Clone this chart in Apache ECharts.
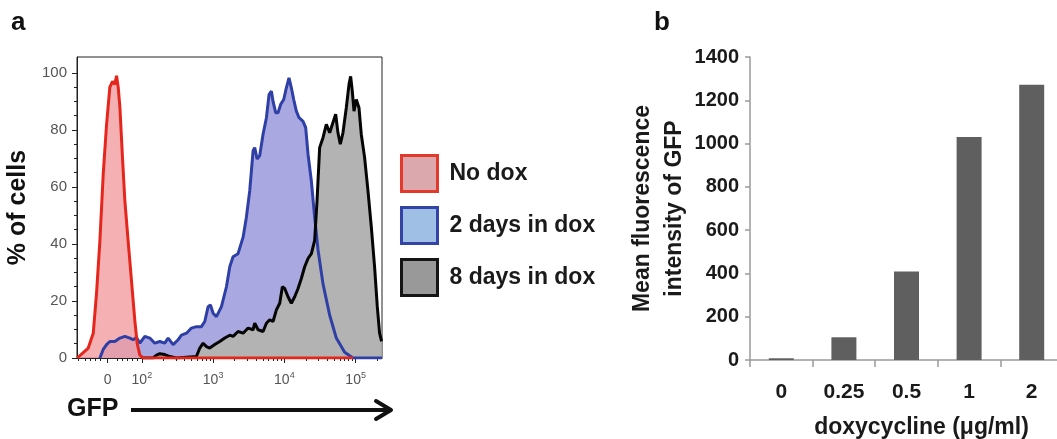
<!DOCTYPE html>
<html><head><meta charset="utf-8">
<script src="https://cdn.jsdelivr.net/npm/echarts@6/dist/echarts.min.js"></script>
<style>html,body{margin:0;padding:0;background:#fff}#c{width:1057px;height:439px}</style>
</head><body><div id="c"></div>
<script>
// ---- Panel a: GFP histograms (x = display position in decades, 2 = 10^2; y = % of cells)
const noDox = [[1.093,0],[1.248,3.5],[1.318,8.7],[1.364,22.7],[1.411,41],[1.458,64.5],[1.505,82],[1.551,95],[1.589,97],[1.621,96],[1.645,99],[1.668,95],[1.692,88],[1.729,70],[1.762,55],[1.808,41],[1.855,27],[1.902,13],[1.935,5],[1.972,1],[2.019,0],[4.963,0]];
const twoDays = [[1.411,0],[1.458,3],[1.505,4.7],[1.551,5.8],[1.621,5.8],[1.692,7],[1.762,7.6],[1.832,7],[1.879,6.4],[1.925,7.2],[1.972,5.2],[2.042,7.6],[2.112,7],[2.182,5.2],[2.252,5.8],[2.322,5.2],[2.369,7],[2.439,4.7],[2.509,6.4],[2.556,8],[2.626,8.7],[2.696,10.5],[2.766,11],[2.836,11],[2.883,12.8],[2.930,18],[2.963,18.6],[3.000,15.7],[3.047,14.5],[3.117,18],[3.187,25],[3.234,32],[3.280,35.5],[3.350,36.6],[3.421,42.4],[3.467,49.4],[3.514,58.7],[3.561,72.7],[3.584,73.8],[3.617,69.8],[3.654,71],[3.701,78.5],[3.748,84.3],[3.785,92.4],[3.818,93.6],[3.841,90],[3.879,86],[3.911,86],[3.949,89],[3.991,90.7],[4.028,94.8],[4.065,98.3],[4.098,94.8],[4.131,90.7],[4.168,86.6],[4.206,84.3],[4.262,83],[4.299,80.8],[4.332,71.5],[4.379,62],[4.425,49.4],[4.472,38],[4.542,26],[4.636,15],[4.729,7],[4.846,2],[4.963,0],[5.369,0]];
const eightDays = [[2.0,0],[2.159,0],[2.206,1],[2.252,1.5],[2.322,1.2],[2.393,0.5],[2.486,0],[2.766,0.5],[2.813,3.5],[2.860,5.2],[2.907,4],[2.953,3.5],[3.023,4.7],[3.093,5.8],[3.164,7],[3.234,8],[3.280,7.6],[3.350,9.3],[3.421,8.7],[3.491,10.5],[3.561,9.9],[3.584,12.2],[3.631,9.9],[3.701,9.3],[3.748,12.2],[3.794,13.4],[3.841,12.8],[3.888,16.9],[3.935,19.2],[3.972,25],[4.005,24.4],[4.051,21.5],[4.098,19.2],[4.145,21.5],[4.192,24.4],[4.238,27.9],[4.285,32],[4.332,34.9],[4.379,36.6],[4.425,41.3],[4.458,55],[4.495,73.8],[4.542,77.3],[4.589,82],[4.636,79],[4.682,82.6],[4.720,85.5],[4.752,79],[4.785,75],[4.822,79],[4.869,87.8],[4.907,96],[4.930,98.8],[4.953,93.6],[4.977,86.6],[5.009,90.7],[5.047,87.8],[5.079,78.5],[5.126,70.3],[5.173,58.7],[5.220,46],[5.266,32],[5.304,18],[5.336,8.7],[5.364,5.8]];
const seriesNames = ['No dox', '2 days in dox', '8 days in dox'];
const gfpMajorTicks = [1.52, 2, 3, 4, 5];
const gfpMajorLabels = ['0', '10|2', '10|3', '10|4', '10|5'];
const gfpMinorTicks = [1.103,1.201,1.271,1.341,1.411,1.650,1.720,1.790,1.860,1.930,
  2.301,2.477,2.602,2.699,2.778,2.845,2.903,2.954,
  3.301,3.477,3.602,3.699,3.778,3.845,3.903,3.954,
  4.301,4.477,4.602,4.699,4.778,4.845,4.903,4.954,5.301];
const pctMajorTicks = [0, 20, 40, 60, 80, 100];
const pctMinorTicks = [5,10,15,25,30,35,45,50,55,65,70,75,85,90,95];

// ---- Panel b: mean fluorescence intensity
const doseCategories = ['0', '0.25', '0.5', '1', '2'];
const mfiValues = [8, 105, 409, 1030, 1272];

const FONT = 'Liberation Sans, Arial, Helvetica, sans-serif';
const chart = echarts.init(document.getElementById('c'), null, {renderer: 'canvas'});

const labelMap = {};
gfpMajorTicks.forEach((v, i) => { labelMap[v] = gfpMajorLabels[i]; });

chart.setOption({
  animation: false,
  backgroundColor: '#fff',
  graphic: [
    {type: 'text', left: 11, top: 10, style: {text: 'a', font: 'bold 26px ' + FONT, fill: '#111'}},
    {type: 'text', left: 654, top: 10, style: {text: 'b', font: 'bold 26px ' + FONT, fill: '#111'}},
    {type: 'text', left: 67, top: 397, style: {text: 'GFP', font: 'bold 25px ' + FONT, fill: '#111'}},
    {type: 'line', shape: {x1: 131, y1: 410, x2: 390, y2: 410}, style: {stroke: '#111', lineWidth: 4}},
    {type: 'polyline', shape: {points: [[376, 401], [391, 410], [376, 419]]}, style: {stroke: '#111', lineWidth: 4, fill: null, lineCap: 'round', lineJoin: 'round'}}
  ],
  legend: {
    orient: 'vertical', left: 400, top: 154, padding: 0,
    itemWidth: 36, itemHeight: 36, itemGap: 13, icon: 'rect',
    selectedMode: false,
    textStyle: {fontSize: 23, fontWeight: 'bold', color: '#1a1a1a', fontFamily: FONT, padding: [0, 0, 0, 7]},
    data: [
      {name: seriesNames[0], itemStyle: {color: '#dba8ad', borderColor: '#e2392a', borderWidth: 3}},
      {name: seriesNames[1], itemStyle: {color: '#9fc0e4', borderColor: '#3343a6', borderWidth: 3}},
      {name: seriesNames[2], itemStyle: {color: '#999999', borderColor: '#151515', borderWidth: 3}}
    ]
  },
  grid: [
    {left: 77, right: 675, top: 57, bottom: 81, show: true, borderColor: '#222', borderWidth: 1, backgroundColor: 'transparent', outerBoundsMode: 'none', containLabel: false},
    {left: 750, right: -6, top: 57, bottom: 79, outerBoundsMode: 'none', containLabel: false}
  ],
  xAxis: [
    {type: 'value', gridIndex: 0, min: 1.09, max: 5.37, position: 'bottom',
      axisLine: {show: true, lineStyle: {color: '#222', width: 1}},
      splitLine: {show: false},
      axisTick: {show: true, length: 5, customValues: gfpMajorTicks, lineStyle: {color: '#222'}},
      axisLabel: {show: true, margin: 13, customValues: gfpMajorTicks, color: '#555',
        formatter: v => {
          const key = Object.keys(labelMap).find(k => Math.abs(+k - v) < 1e-6);
          const t = labelMap[key] || '';
          if (t.indexOf('|') < 0) return '{b|' + t + '}';
          const p = t.split('|');
          return '{b|' + p[0] + '}{s|' + p[1] + '}';
        },
        rich: {
          b: {fontSize: 14, color: '#555', fontFamily: FONT, lineHeight: 18},
          s: {fontSize: 9, color: '#555', fontFamily: FONT, verticalAlign: 'top', lineHeight: 10}
        }
      }
    },
    {type: 'value', gridIndex: 0, min: 1.09, max: 5.37, position: 'bottom',
      axisLine: {show: false}, splitLine: {show: false},
      axisTick: {show: true, length: 3, customValues: gfpMinorTicks, lineStyle: {color: '#222'}},
      axisLabel: {show: false}
    },
    {type: 'category', gridIndex: 1, data: doseCategories,
      axisLine: {show: true, lineStyle: {color: '#9a9a9a', width: 1.5}},
      axisTick: {show: true, length: 7, alignWithLabel: false, lineStyle: {color: '#9a9a9a', width: 1.5}},
      axisLabel: {margin: 22, fontSize: 21, fontWeight: 'bold', color: '#1a1a1a', fontFamily: FONT},
      name: 'doxycycline (μg/ml)', nameLocation: 'middle', nameGap: 56,
      nameTextStyle: {fontSize: 23, fontWeight: 'bold', color: '#1a1a1a', fontFamily: FONT, padding: [0, 0, 0, 30]}
    }
  ],
  yAxis: [
    {type: 'value', gridIndex: 0, min: 0, max: 105.6, position: 'left',
      axisLine: {show: true, lineStyle: {color: '#222', width: 1}},
      splitLine: {show: false},
      axisTick: {show: true, length: 5, customValues: pctMajorTicks, lineStyle: {color: '#222'}},
      axisLabel: {margin: 10, fontSize: 15, color: '#555', fontFamily: FONT, customValues: pctMajorTicks},
      name: '% of cells', nameLocation: 'middle', nameGap: 46, nameRotate: 90,
      nameTextStyle: {fontSize: 25, fontWeight: 'bold', color: '#111', fontFamily: FONT}
    },
    {type: 'value', gridIndex: 0, min: 0, max: 105.6, position: 'left',
      axisLine: {show: false}, splitLine: {show: false},
      axisTick: {show: true, length: 3, customValues: pctMinorTicks, lineStyle: {color: '#222'}},
      axisLabel: {show: false}
    },
    {type: 'value', gridIndex: 1, min: 0, max: 1400, interval: 200,
      axisLine: {show: true, lineStyle: {color: '#9a9a9a', width: 1.5}},
      splitLine: {show: false},
      axisTick: {show: true, length: 5, lineStyle: {color: '#9a9a9a', width: 1.5}},
      axisLabel: {margin: 11, fontSize: 20, fontWeight: 'bold', color: '#1a1a1a', fontFamily: FONT,
        formatter: v => String(v)},
      name: 'Mean fluorescence\nintensity of GFP', nameLocation: 'middle', nameGap: 57, nameRotate: 90,
      nameTextStyle: {fontSize: 23, fontWeight: 'bold', color: '#1a1a1a', fontFamily: FONT, lineHeight: 32}
    }
  ],
  series: [
    {name: seriesNames[1], type: 'line', xAxisIndex: 0, yAxisIndex: 0, data: twoDays, showSymbol: false, symbol: 'none',
      lineStyle: {color: '#2e3fa6', width: 3}, itemStyle: {color: '#9fc0e4'}, areaStyle: {color: '#aaa8e0', opacity: 1}},
    {name: seriesNames[2], type: 'line', xAxisIndex: 0, yAxisIndex: 0, data: eightDays, showSymbol: false, symbol: 'none',
      lineStyle: {color: '#050505', width: 3}, itemStyle: {color: '#999'}, areaStyle: {color: '#b3b3b3', opacity: 1}},
    {name: seriesNames[0], type: 'line', xAxisIndex: 0, yAxisIndex: 0, data: noDox, showSymbol: false, symbol: 'none',
      lineStyle: {color: '#e5261c', width: 3}, itemStyle: {color: '#dba8ad'}, areaStyle: {color: '#f39ca1', opacity: 0.8}},
    {name: 'MFI', type: 'bar', xAxisIndex: 2, yAxisIndex: 2, data: mfiValues, barWidth: 25,
      itemStyle: {color: '#5f5f5f'}}
  ]
});
</script></body></html>
